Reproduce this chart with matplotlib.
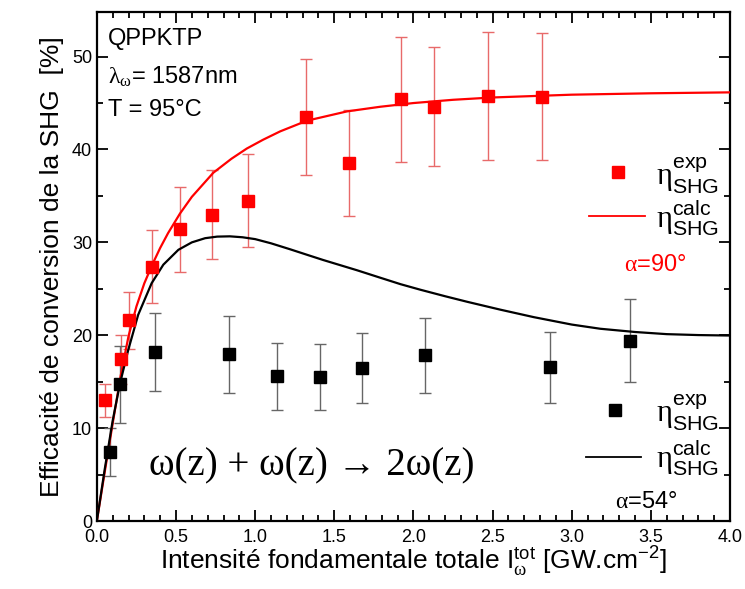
import matplotlib
matplotlib.use("Agg")
import matplotlib.pyplot as plt
from matplotlib.ticker import MultipleLocator

plt.rcParams['font.family'] = ['Liberation Sans', 'DejaVu Sans']
plt.rcParams['mathtext.fontset'] = 'custom'
plt.rcParams['mathtext.rm'] = 'Liberation Sans'
plt.rcParams['mathtext.it'] = 'Liberation Sans:italic'
plt.rcParams['mathtext.sf'] = 'Liberation Sans'
plt.rcParams['mathtext.cal'] = 'Liberation Serif'  # used for the serif greek letters

# measured points, alpha = 90 deg (red)
red_x = [0.05, 0.15, 0.20, 0.35, 0.525, 0.73, 0.955, 1.32, 1.59, 1.92, 2.13, 2.47, 2.81]
red_y = [13.0, 17.4, 21.6, 27.4, 31.4, 33.0, 34.5, 43.5, 38.5, 45.4, 44.6, 45.8, 45.7]
red_err = [1.8, 2.6, 3.1, 3.9, 4.6, 4.8, 5.0, 6.2, 5.7, 6.7, 6.4, 6.9, 6.8]

# measured points, alpha = 54 deg (black)
blk_x = [0.082, 0.146, 0.367, 0.837, 1.135, 1.407, 1.675, 2.07, 2.86, 3.365]
blk_y = [7.4, 14.7, 18.2, 17.95, 15.6, 15.55, 16.45, 17.85, 16.55, 19.4]
blk_err = [2.6, 4.1, 4.2, 4.15, 3.6, 3.55, 3.75, 4.05, 3.8, 4.45]

# calculated curves
red_cx = [0, 0.05, 0.1, 0.15, 0.2, 0.25, 0.3, 0.35, 0.4, 0.45, 0.525, 0.6, 0.736, 0.85,
          0.947, 1.05, 1.158, 1.327, 1.58, 1.79, 2.0, 2.25, 2.5, 3.0, 3.5, 4.0]
red_cy = [0, 5.3, 10.5, 15.6, 19.9, 23.1, 25.6, 27.6, 29.4, 31.0, 33.1, 34.9, 37.5, 39.0,
          40.1, 41.05, 41.95, 43.1, 44.1, 44.6, 45.0, 45.35, 45.6, 45.9, 46.05, 46.15]

blk_cx = [0, 0.05, 0.1, 0.146, 0.198, 0.261, 0.346, 0.42, 0.515, 0.6, 0.684, 0.76, 0.84,
          0.92, 1.0, 1.1, 1.222, 1.33, 1.43, 1.643, 1.78, 1.918, 2.044, 2.2, 2.34, 2.55,
          2.76, 3.0, 3.18, 3.4, 3.6, 3.8, 4.0]
blk_cy = [0, 5.6, 10.8, 14.8, 18.4, 22.2, 25.6, 27.6, 29.2, 30.0, 30.45, 30.62, 30.65,
          30.55, 30.35, 29.9, 29.25, 28.65, 28.1, 27.0, 26.25, 25.5, 24.9, 24.2, 23.6, 22.75,
          21.95, 21.15, 20.7, 20.35, 20.12, 20.02, 19.97]

fig = plt.figure(figsize=(7.45, 5.89), dpi=100)
ax = fig.add_axes([0.130, 0.1154, 0.850, 0.8642])

ax.errorbar(red_x, red_y, yerr=red_err, fmt='none', ecolor='#e86a6a', elinewidth=1.0,
            capsize=4, capthick=1.0, zorder=2)
ax.errorbar(blk_x, blk_y, yerr=blk_err, fmt='none', ecolor='#666666', elinewidth=1.0,
            capsize=4, capthick=1.0, zorder=2)
ax.plot(red_cx, red_cy, color='red', lw=1.6, zorder=3)
ax.plot(blk_cx, blk_cy, color='black', lw=1.6, zorder=3)
ax.plot(red_x, red_y, 's', color='red', ms=9, zorder=4)
ax.plot(blk_x, blk_y, 's', color='black', ms=8.5, zorder=4)

ax.set_xlim(0, 4.0)
ax.set_ylim(0, 54.8)
ax.xaxis.set_major_locator(MultipleLocator(0.5))
ax.xaxis.set_minor_locator(MultipleLocator(0.1))
ax.yaxis.set_major_locator(MultipleLocator(10))
ax.yaxis.set_minor_locator(MultipleLocator(5))
ax.tick_params(which='both', direction='in', top=True, right=True, width=1.3, labelsize=13)
ax.tick_params(which='major', length=8)
ax.tick_params(which='minor', length=4)
ax.tick_params(axis='x', pad=6)
for s in ax.spines.values():
    s.set_linewidth(1.6)

ax.set_xlabel(r'Intensité fondamentale totale I$_{\mathcal{\omega}}^{\mathrm{tot}}$ [GW.cm$^{-2}$]',
              fontsize=19, labelpad=-1)
ax.set_ylabel('Efficacité de conversion de la SHG  [%]', fontsize=19, labelpad=6)

# sample info
ax.text(0.07, 51.9, 'QPPKTP', fontsize=17, va='center')
ax.text(0.07, 47.9, r'$\mathcal{\lambda}_{\mathcal{\omega}}$= 1587nm', fontsize=17, va='center')
ax.text(0.07, 44.2, 'T = 95°C', fontsize=17, va='center')

ax.text(0.33, 5.9, 'ω(z) + ω(z) → 2ω(z)', fontsize=28, va='center',
        family=['Liberation Serif', 'DejaVu Serif'])

# legend for alpha = 90
eta_exp = r'$\mathcal{\eta}_{\mathrm{SHG}}^{\mathrm{exp}}$'
eta_calc = r'$\mathcal{\eta}_{\mathrm{SHG}}^{\mathrm{calc}}$'
ax.plot([3.29], [37.6], 's', color='red', ms=9)
ax.text(3.53, 37.2, eta_exp, fontsize=22, va='center')
ax.plot([3.11, 3.46], [32.8, 32.8], color='red', lw=1.3)
ax.text(3.53, 32.6, eta_calc, fontsize=22, va='center')
ax.text(3.33, 27.6, r'$\mathcal{\alpha}$=90°', fontsize=17, color='red', va='center')

# legend for alpha = 54
ax.plot([3.27], [11.9], 's', color='black', ms=8.5)
ax.text(3.53, 11.6, eta_exp, fontsize=22, va='center')
ax.plot([3.09, 3.44], [6.9, 6.9], color='black', lw=1.3)
ax.text(3.53, 6.8, eta_calc, fontsize=22, va='center')
ax.text(3.27, 2.0, r'$\mathcal{\alpha}$=54°', fontsize=17, color='black', va='center')

fig.savefig('out.png', dpi=100)
